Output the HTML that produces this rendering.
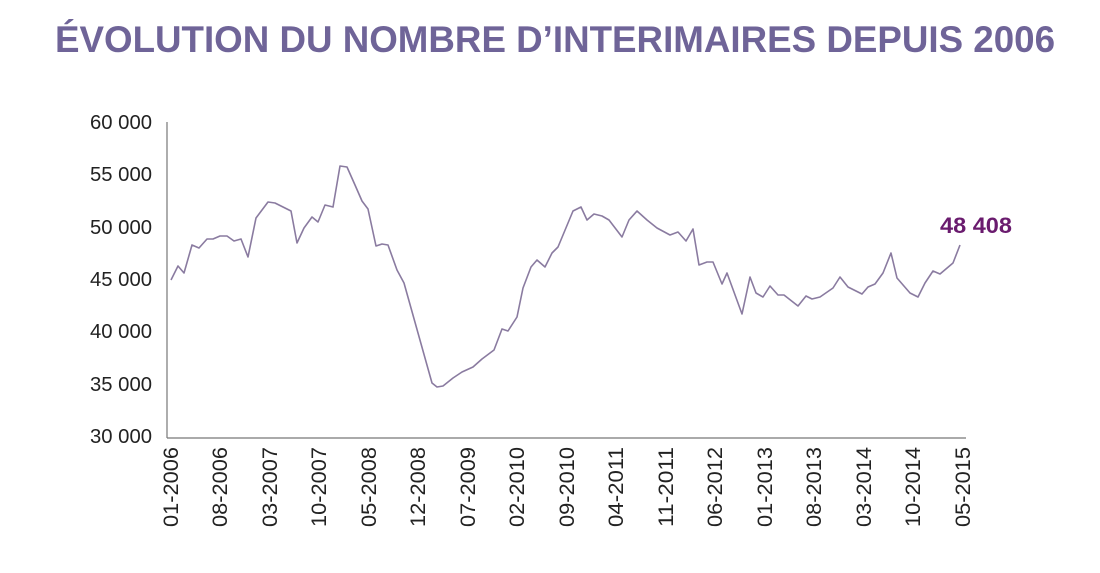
<!DOCTYPE html>
<html><head><meta charset="utf-8"><style>
html,body{margin:0;padding:0;background:#fff;}
body{width:1100px;height:568px;overflow:hidden;font-family:"Liberation Sans",sans-serif;}
</style></head><body>
<svg width="1100" height="568" xmlns="http://www.w3.org/2000/svg" font-family="Liberation Sans, sans-serif">
<text x="55" y="52" textLength="1000" lengthAdjust="spacingAndGlyphs" font-size="37" font-weight="bold" fill="#6f6498">ÉVOLUTION DU NOMBRE D’INTERIMAIRES DEPUIS 2006</text>
<g font-size="20" fill="#222" text-anchor="end">
<text x="152" y="129" textLength="62" lengthAdjust="spacingAndGlyphs">60 000</text>
<text x="152" y="181" textLength="62" lengthAdjust="spacingAndGlyphs">55 000</text>
<text x="152" y="234" textLength="62" lengthAdjust="spacingAndGlyphs">50 000</text>
<text x="152" y="286" textLength="62" lengthAdjust="spacingAndGlyphs">45 000</text>
<text x="152" y="338" textLength="62" lengthAdjust="spacingAndGlyphs">40 000</text>
<text x="152" y="391" textLength="62" lengthAdjust="spacingAndGlyphs">35 000</text>
<text x="152" y="443" textLength="62" lengthAdjust="spacingAndGlyphs">30 000</text>
</g>
<line x1="167" y1="122" x2="167" y2="438" stroke="#777" stroke-width="1.2"/>
<line x1="167" y1="438" x2="966" y2="438" stroke="#777" stroke-width="1.2"/>
<g font-size="21" fill="#222" text-anchor="end">
<text transform="translate(178,447) rotate(-90)" textLength="80" lengthAdjust="spacingAndGlyphs">01-2006</text>
<text transform="translate(227,447) rotate(-90)" textLength="80" lengthAdjust="spacingAndGlyphs">08-2006</text>
<text transform="translate(277,447) rotate(-90)" textLength="80" lengthAdjust="spacingAndGlyphs">03-2007</text>
<text transform="translate(326,447) rotate(-90)" textLength="80" lengthAdjust="spacingAndGlyphs">10-2007</text>
<text transform="translate(376,447) rotate(-90)" textLength="80" lengthAdjust="spacingAndGlyphs">05-2008</text>
<text transform="translate(425,447) rotate(-90)" textLength="80" lengthAdjust="spacingAndGlyphs">12-2008</text>
<text transform="translate(475,447) rotate(-90)" textLength="80" lengthAdjust="spacingAndGlyphs">07-2009</text>
<text transform="translate(524,447) rotate(-90)" textLength="80" lengthAdjust="spacingAndGlyphs">02-2010</text>
<text transform="translate(574,447) rotate(-90)" textLength="80" lengthAdjust="spacingAndGlyphs">09-2010</text>
<text transform="translate(623,447) rotate(-90)" textLength="80" lengthAdjust="spacingAndGlyphs">04-2011</text>
<text transform="translate(673,447) rotate(-90)" textLength="80" lengthAdjust="spacingAndGlyphs">11-2011</text>
<text transform="translate(722,447) rotate(-90)" textLength="80" lengthAdjust="spacingAndGlyphs">06-2012</text>
<text transform="translate(772,447) rotate(-90)" textLength="80" lengthAdjust="spacingAndGlyphs">01-2013</text>
<text transform="translate(821,447) rotate(-90)" textLength="80" lengthAdjust="spacingAndGlyphs">08-2013</text>
<text transform="translate(871,447) rotate(-90)" textLength="80" lengthAdjust="spacingAndGlyphs">03-2014</text>
<text transform="translate(920,447) rotate(-90)" textLength="80" lengthAdjust="spacingAndGlyphs">10-2014</text>
<text transform="translate(970,447) rotate(-90)" textLength="80" lengthAdjust="spacingAndGlyphs">05-2015</text>
</g>
<polyline fill="none" stroke="#8a7ba0" stroke-width="1.6" stroke-linejoin="round" points="171,280 178,266 184,273 192,245 199,248 207,239 213,239 220,236 227,236 234,241 241,239 248,257 256,218 268,202 275,203 291,211 297,243 304,228 312,217 318,222 325,205 333,207 340,166 347,167 355,185 362,201 368,209 376,246 382,244 388,245 397,270 404,283 432,383 437,387 443,386 453,378 462,372 473,367 482,359 494,350 502,329 508,331 517,317 523,288 531,267 537,260 545,267 552,253 558,247 573,211 581,207 587,220 594,214 602,216 609,220 622,237 629,220 637,211 647,220 657,228 670,235 678,232 686,241 693,229 699,265 707,262 713,262 722,284 727,273 742,314 750,277 756,293 763,297 770,286 778,295 784,295 798,306 806,296 812,299 820,297 833,288 840,277 848,287 862,294 868,287 875,284 883,273 891,253 897,278 910,293 918,297 925,283 933,271 940,274 953,263 960,245"/>
<text x="940" y="233" textLength="72" lengthAdjust="spacingAndGlyphs" font-size="22" font-weight="bold" fill="#6a1b6e">48 408</text>
</svg>
</body></html>
